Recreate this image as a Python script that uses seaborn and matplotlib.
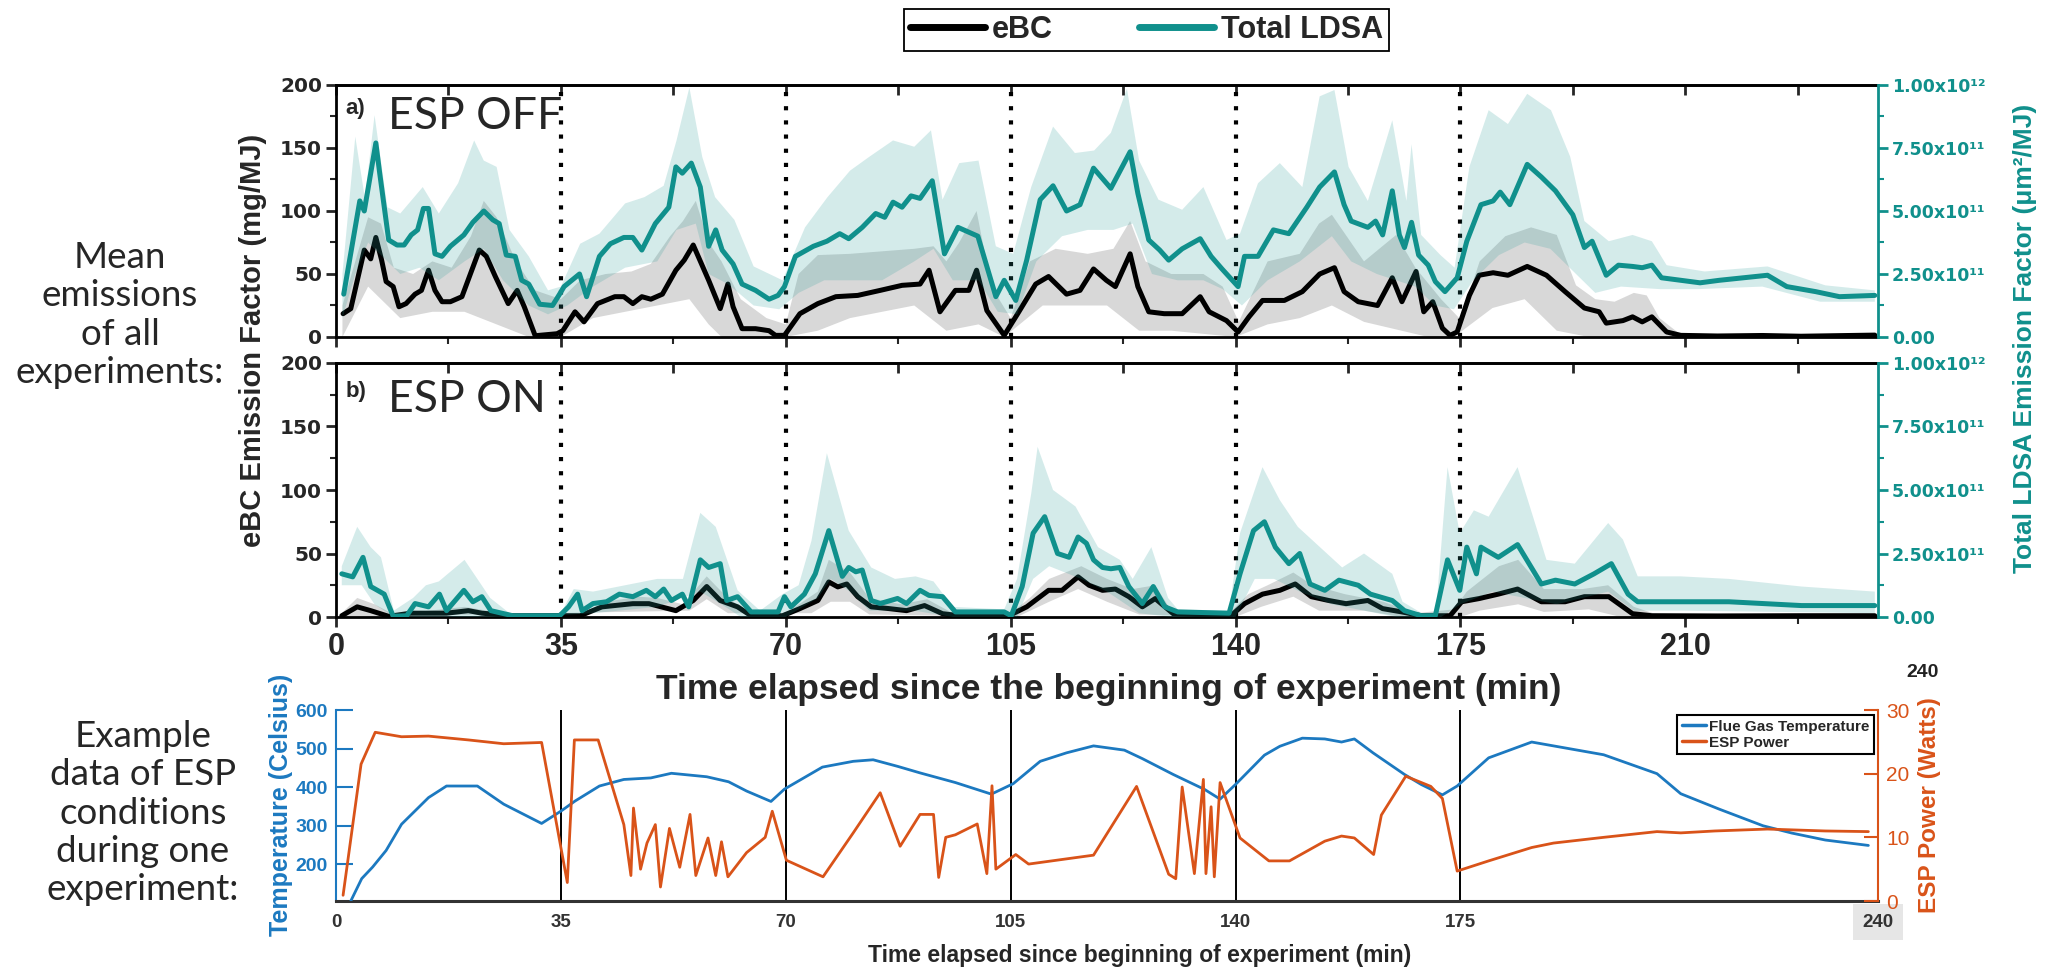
import numpy as np
import matplotlib
matplotlib.use("Agg")
import matplotlib.pyplot as plt
from matplotlib.lines import Line2D
from matplotlib.ticker import MultipleLocator
import seaborn as sns

# ------------------------------------------------------------------ data
PHASE_BOUNDS = [35, 70, 105, 140, 175]
X_TICKS = [0, 35, 70, 105, 140, 175, 210]
X_TICKS_ESP = [0, 35, 70, 105, 140, 175, 240]
X_TICK_LABELS_ESP = ["0", "35", "70", "105", "140", "175", "240"]
EBC_TICKS = [0, 50, 100, 150, 200]
LDSA_TICKS = [0.0, 2.5e11, 5.0e11, 7.5e11, 1.0e12]
LDSA_TICK_LABELS = ["0.00", "2.50x10\u00b9\u00b9", "5.00x10\u00b9\u00b9", "7.50x10\u00b9\u00b9", "1.00x10\u00b9\u00b2"]
TEMP_TICKS = [200, 300, 400, 500, 600]
POWER_TICKS = [0, 10, 20, 30]
SERIES_NAMES = ["eBC", "Total LDSA"]
ESP_NAMES = ["Flue Gas Temperature", "ESP Power"]

# panel a (ESP OFF): eBC mean, mg/MJ  (time min, value)
A_EBC = [(1.1,18.5),(2.3,22.5),(4.4,69),(5.4,62),(6.2,79),(7.1,61),(7.8,44),(8.9,40),(9.8,24),(10.9,26.5),
         (12.3,34),(13.3,37),(14.4,53),(15.4,37),(16.5,28),(17.8,28),(19.6,32),(22.3,69),(23.4,64),(24.8,48),
         (26.8,26.5),(28.2,37),(29.3,24),(31.0,1),(34.4,2.6),(35.3,5),(37.2,20),(38.6,12),(40.7,26.5),(43.4,32),
         (44.8,32),(46.2,26.5),(47.6,32),(49.0,30),(50.8,34),(52.9,53),(54.2,61),(55.6,73),(58.0,45),(59.8,22.5),
         (61.0,42),(61.8,24),(63.2,6.6),(65.3,6.6),(67.4,5),(68.4,1.3),(69.8,1.3),(72.2,18.5),(75.0,26.5),(77.8,32),
         (81.2,33),(84.7,37),(88.1,41),(90.9,42),(92.3,53),(94.0,20),(96.4,37),(98.5,37),(99.7,53),(101.3,21),
         (104.0,1.3),(106.1,18.5),(108.9,42),(110.9,48),(113.7,34),(115.8,37),(117.9,54),(119.9,45),(121.3,40),(123.6,66),
         (124.8,40),(126.5,20),(128.9,18.5),(131.7,18.5),(134.5,32),(135.9,20),(138.6,13),(140.4,4),(142.1,16),(144.2,29),
         (147.6,29),(150.4,36),(153.1,50),(155.4,55),(156.9,36),(159.1,28),(162.1,25),(164.4,47),(165.9,28),(168.1,52),
         (169.3,20),(170.7,28),(172.2,7),(173.4,1.3),(174.5,4),(176.4,33),(177.9,49),(180.1,51),(182.4,49),(185.4,56),
         (188.4,49),(191.3,36),(194.3,23),(196.6,20),(197.7,11),(200.3,13),(201.8,16),(203.3,12),(204.8,16),(207.1,4),
         (209.3,1.3),(215.0,0.8),(222.0,1.2),(228.0,0.6),(233.0,1.0),(239.5,1.5)]
A_EBC_HI = [(1,25),(3,60),(5,95),(7,90),(9,55),(12,50),(15,60),(18,55),(21,80),(23,108),(25,95),(28,60),(31,37),
            (35,30),(38,45),(42,50),(46,52),(49,58),(52,80),(54,92),(56,108),(58,75),(60,60),(63,30),(67,15),(70,10),
            (72,50),(75,65),(80,66),(85,68),(90,70),(93,72),(95,60),(97,75),(99.7,100),(102,40),(105,15),(108,60),
            (112,70),(117,66),(121,70),(123.6,92),(126,60),(130,50),(135,50),(138,40),(140.5,12),(145,60),(150,66),
            (153,90),(155,97),(160,60),(165,81),(168,55),(172,30),(175,14),(178,60),(182,80),(186,87),(190,81),
            (193,41),(196,30),(199,28),(202,35),(204,33),(206,15),(209,3),(215,2),(239.5,2)]
A_EBC_LO = [(1,0),(5,40),(10,15),(15,20),(20,20),(25,10),(30,0),(35,0),(40,15),(45,20),(50,25),(55,30),(58,10),
            (60,0),(70,0),(75,5),(80,15),(90,25),(95,5),(100,10),(104,0),(110,25),(120,25),(125,5),(130,5),(140,0),
            (145,10),(150,15),(155,25),(160,12),(170,0),(174,0),(180,23),(185,30),(190,5),(195,0),(200,0),(239.5,0)]
# panel a: Total LDSA mean, in 1e11 um^2/MJ
A_LDSA = [(1.2,1.7),(3.7,5.4),(4.4,5.0),(6.2,7.7),(6.8,6.5),(8.2,3.85),(9.5,3.65),(10.6,3.65),(11.7,4.05),(12.7,4.25),
          (13.6,5.1),(14.4,5.1),(15.4,3.3),(16.5,3.2),(17.8,3.6),(19.9,4.05),(21.3,4.55),(23.0,5.0),(24.4,4.65),(25.4,4.5),
          (26.5,3.25),(27.9,3.2),(28.9,2.25),(30.0,2.1),(31.7,1.3),(33.7,1.25),(34.8,1.7),(35.5,2.0),(37.9,2.5),(39.0,1.6),
          (41.0,3.2),(42.7,3.7),(44.8,3.95),(46.2,3.95),(47.6,3.45),(49.7,4.5),(51.8,5.15),(52.9,6.75),(53.9,6.5),(55.3,6.9),
          (56.7,5.95),(58.0,3.6),(59.1,4.25),(60.1,3.45),(61.8,2.9),(63.2,2.1),(65.3,1.85),(67.4,1.5),(68.8,1.65),(69.8,2.0),
          (71.5,3.2),(74.3,3.6),(76.4,3.8),(78.4,4.1),(79.8,3.9),(81.9,4.35),(84.0,4.9),(85.4,4.75),(86.7,5.35),(88.1,5.15),
          (89.5,5.6),(90.9,5.5),(92.8,6.2),(94.7,3.3),(96.8,4.35),(99.9,4.0),(102.7,1.6),(104.0,2.25),(105.8,1.45),(107.5,3.05),
          (109.6,5.45),(111.6,6.0),(113.7,5.0),(115.8,5.25),(117.9,6.7),(120.6,5.9),(123.6,7.35),(124.8,5.7),(126.5,3.85),(128.2,3.45),
          (129.6,3.05),(131.7,3.5),(134.5,3.9),(136.2,3.2),(137.9,2.7),(140.4,2.0),(141.4,3.2),(143.5,3.2),(145.9,4.25),(148.3,4.1),
          (151.1,5.15),(153.1,5.95),(155.4,6.55),(156.9,5.25),(158.0,4.6),(160.6,4.35),(161.8,4.6),(162.9,4.05),(164.4,5.8),(165.5,4.05),
          (166.3,3.55),(167.4,4.55),(168.5,3.25),(170.0,2.85),(171.1,2.2),(172.6,1.8),(174.5,2.35),(176.0,3.8),(178.2,5.25),(180.1,5.4),
          (181.2,5.75),(182.7,5.25),(185.4,6.85),(187.6,6.35),(189.8,5.8),(192.5,4.85),(194.3,3.55),(195.5,3.8),(197.7,2.45),(199.6,2.85),
          (201.8,2.8),(203.3,2.75),(204.8,2.85),(206.3,2.35),(209.3,2.25),(212.3,2.15),(215.3,2.25),(219.1,2.35),(222.8,2.45),(225.8,2.0),
          (230.3,1.8),(234.0,1.6),(239.5,1.65)]
A_LDSA_HI = [(1,2.5),(3,7.95),(4.5,5.5),(6,8.8),(8,5.15),(10,4.9),(13.5,5.95),(16,4.9),(19,6.1),(21.5,7.8),(23,7.0),
             (25,6.75),(27,4.25),(30,3.2),(33,1.85),(35,2.0),(38,3.7),(41,4.1),(45,5.3),(48,5.55),(51,6.0),(53,7.8),
             (55,9.9),(57,7.15),(59,5.55),(62,4.65),(65,2.8),(69.5,2.25),(73,4.35),(76.5,5.55),(80,6.6),(83,7.15),
             (86.7,7.8),(90,7.55),(92.6,8.2),(94.4,5.45),(97,6.9),(100,7.0),(102.7,3.6),(105.4,3.3),(108.2,5.95),
             (111.6,8.35),(115,7.3),(118,7.4),(120.6,8.1),(123.1,9.85),(125,7.0),(128,5.45),(131.7,5.05),(135,5.95),
             (138.6,3.85),(140.7,4.1),(143.5,6.1),(146.9,6.9),(150.4,5.95),(153.1,9.55),(155.4,9.8),(157.6,6.75),
             (160.6,5.4),(164.4,8.6),(166.6,5.4),(167.4,7.65),(168.9,4.05),(171.9,3.25),(174.1,2.75),(176.4,6.75),
             (179.4,9.0),(182.4,8.45),(185.4,9.65),(189.1,9.0),(192.1,7.15),(194.3,4.6),(198.1,3.8),(201.8,4.05),
             (204.8,3.8),(207.1,2.85),(213,2.6),(222.8,2.8),(231.8,2.05),(239.5,1.85)]
A_LDSA_LO = [(1,0.75),(3,2.5),(5,3.75),(7,3.25),(10,2.5),(13,2.75),(16,2.25),(20,3.0),(23,3.5),(26,2.25),(30,1.25),
             (33,0.9),(36,1.25),(40,2.0),(45,2.75),(50,3.0),(53,4.25),(56,4.5),(58,2.5),(61,2.1),(65,1.25),(69,1.1),
             (72,1.75),(76,2.25),(80,2.25),(85,2.25),(90,3.0),(93,3.5),(96,2.25),(100,2.25),(103,1.0),(106,0.9),
             (109,3.0),(113,4.0),(117,4.25),(121,4.25),(124,4.5),(127,2.5),(131,2.25),(135,2.25),(138,1.9),(141,1.25),
             (145,2.25),(150,3.0),(155,4.0),(158,3.0),(162,2.5),(165,2.25),(168,2.0),(171,1.25),(174,1.1),(177,2.25),
             (181,3.25),(185,3.75),(189,3.5),(193,2.5),(196,1.75),(200,2.0),(206,1.9),(212,1.9),(222,2.0),(231,1.4),
             (239.5,1.4)]

# panel b (ESP ON)
B_EBC = [(0.9,1),(3.3,8),(5.4,5),(8.2,0.5),(11.6,3),(17.2,3),(20.6,5),(22.7,3),(27.5,1),(38.0,1),(41.4,8),(46.2,10.5),
         (48.7,10.5),(52.9,5),(55.6,13),(57.7,24),(59.8,13),(62.5,8),(64.6,1),(69.5,1),(72.2,6.6),(75.0,13),(76.7,27.6),
         (78.1,23.7),(79.5,26),(81.2,16),(83.3,8),(86.1,6.6),(88.8,5),(91.6,9),(94.4,2.6),(97.1,1),(104.7,1),(107.5,8),
         (110.9,21),(113.0,21),(115.5,31.6),(117.2,25),(119.3,21),(121.3,22),(123.4,16),(125.5,8),(127.5,14.5),(130.3,2.6),
         (139.3,1),(141.4,10.5),(144.2,18),(146.9,21),(149.3,26),(151.8,16),(154.5,13),(157.2,10.5),(160.6,13),(162.9,6.6),
         (165.9,4),(168.9,1),(173.4,1),(175.2,12),(177.9,14.5),(180.9,18),(183.9,22),(187.6,12),(191.3,12),(194.3,16),
         (198.1,16),(201.8,2.6),(204.8,1),(215,0.8),(228,1),(239.5,1)]
B_EBC_HI = [(0.9,3),(3.3,15),(6,10),(9,2),(20,8),(27,2),(38,2),(42,12),(47,16),(50,15),(54,10),(57.7,32),(60,20),(64,3),
            (70,3),(75,20),(76.7,45),(80,35),(83,15),(88,10),(92,14),(96,3),(105,3),(108,15),(111,30),(116,40),(120,30),
            (124,22),(127.5,25),(130,5),(139,3),(142,18),(145,25),(149,35),(152,25),(157,18),(163,12),(168,3),(174,6),
            (176,20),(181,40),(184,45),(188,22),(194,22),(198,25),(202,8),(205,3),(239.5,3)]
B_EBC_LO = [(0.9,0),(55,5),(57.7,14),(61,3),(74,3),(77,12),(80,12),(83,2),(106,0),(111,12),(115.5,22),(120,12),(125,2),
            (140,0),(144,8),(149,16),(153,5),(160,5),(166,0),(175,0),(178,5),(184,10),(188,4),(195,6),(200,0),(239.5,0)]
B_LDSA = [(0.9,1.7),(2.6,1.58),(4.2,2.35),(5.4,1.2),(7.5,0.9),(8.9,0.03),(11,0.05),(12.3,0.53),(14.4,0.4),(16.1,0.9),
          (17.2,0.25),(19.9,1.05),(21.3,0.6),(22.7,0.8),(24.1,0.25),(27.5,0.05),(34.8,0.05),(36.2,0.4),(37.6,0.9),(38.3,0.25),
          (40.0,0.53),(42.1,0.6),(44.1,0.9),(46.2,0.8),(48.3,1.05),(49.7,0.8),(51.0,1.1),(52.2,0.65),(53.9,0.9),(54.9,0.4),
          (56.7,2.25),(58.0,1.95),(59.8,2.1),(60.8,0.65),(62.5,0.8),(64.6,0.2),(68.8,0.2),(69.8,0.8),(70.8,0.4),(72.9,0.9),
          (74.6,1.7),(76.7,3.4),(78.8,1.6),(79.8,1.95),(80.9,1.78),(81.9,1.85),(83.3,0.65),(84.7,0.53),(87.4,0.73),(88.8,0.53),
          (90.9,1.05),(92.3,0.85),(94.4,0.8),(96.4,0.2),(104.0,0.2),(105.1,0.05),(106.8,1.2),(108.5,3.3),(110.3,3.95),(112.3,2.5),
          (114.1,2.35),(115.5,3.15),(116.8,2.9),(117.9,2.25),(119.3,1.95),(120.6,1.9),(122.0,1.95),(123.4,1.2),(125.5,0.53),(127.2,1.2),
          (129.0,0.4),(131.0,0.2),(139.0,0.15),(140.7,1.7),(142.8,3.4),(144.5,3.75),(146.2,2.75),(148.3,2.1),(150.0,2.5),(151.6,1.3),
          (153.9,1.05),(156.1,1.45),(159.1,1.25),(161.0,0.9),(164.4,0.65),(166.3,0.25),(168.9,0.05),(171.1,0.05),(173.0,2.25),(174.9,1.05),
          (176.0,2.75),(177.5,1.7),(178.2,2.75),(180.9,2.35),(183.9,2.85),(187.6,1.3),(189.8,1.45),(192.8,1.3),(195.8,1.7),(198.5,2.1),
          (201.1,0.9),(202.6,0.6),(206.3,0.6),(216.8,0.6),(228.1,0.45),(239.5,0.45)]
B_LDSA_HI = [(0.9,2.0),(3.3,3.55),(5.4,2.75),(7,2.35),(9,0.25),(12,0.75),(14,1.25),(16,1.4),(20,2.25),(22,1.5),(24,0.75),
             (27,0.15),(35,0.15),(37,1.1),(40,1.0),(45,1.25),(50,1.5),(54,1.5),(56.7,4.1),(59.1,3.55),(62.5,1.05),(66,0.25),
             (69.5,0.9),(72,1.25),(74,3.0),(76.4,6.45),(79.8,3.4),(83.3,1.95),(87,1.5),(90.2,1.6),(93,1.4),(96,0.4),(104,0.3),
             (106,1.5),(108.2,4.85),(109.2,6.7),(111.6,5.0),(115.1,4.35),(118.6,2.75),(122,2.25),(124,1.5),(126.9,2.75),
             (129.5,0.75),(131,0.3),(139,0.25),(140.7,3.3),(144.2,5.9),(146.9,4.6),(149.7,3.55),(152.5,2.9),(156.6,1.95),
             (160,2.5),(164.4,1.7),(166,0.6),(169,0.15),(171.2,0.2),(173,5.9),(174.9,3.3),(177.1,4.2),(179.4,3.95),
             (183.9,5.9),(188.4,2.25),(192.8,2.1),(198,3.7),(200.3,3.05),(202.6,1.6),(209.3,1.6),(216.8,1.5),(228.1,1.2),
             (239.5,1.0)]
B_LDSA_LO = [(0.9,1.25),(4,1.25),(6,0.5),(9,0),(30,0),(40,0.15),(50,0.4),(56.7,1.0),(60,0.5),(63,0),(70,0),(75,0.75),
             (77,1.5),(80,1.0),(83,0.25),(90,0.25),(96,0),(106,0),(108.5,1.5),(111,2.0),(116,1.5),(120,1.0),(125,0.15),
             (130,0),(140,0),(143,1.5),(146,1.5),(150,1.0),(155,0.5),(165,0),(172,0),(175,0.5),(180,1.0),(185,0.75),
             (190,0.5),(198,1.0),(202,0.25),(210,0.25),(239.5,0.15)]

# example experiment: flue gas temperature (Celsius) and ESP power (Watts)
FLUE_TEMP = [(2.3,105),(4.0,163),(5.7,193),(7.8,236),(10.2,304),(14.4,373),(17.2,403),(22.0,403),(26.1,356),(32.0,306),
             (35.1,339),(37.2,364),(41.0,403),(44.8,420),(49.0,424),(52.2,436),(57.7,427),(61.1,414),(63.9,390),(67.7,363),
             (69.8,395),(75.7,452),(80.5,467),(83.6,471),(87.4,454),(90.9,437),(96.4,412),(102.0,382),(105.4,409),(109.6,467),
             (113.7,489),(117.9,507),(122.7,496),(125.5,474),(130.3,433),(135.2,394),(137.6,369),(140.0,407),(144.5,483),
             (146.9,506),(150.4,527),(153.9,525),(156.5,517),(158.5,525),(161.4,489),(166.3,433),(168.9,407),(172.2,380),
             (174.5,403),(179.4,476),(186.1,517),(197.3,484),(205.6,435),(209.3,383),(215.3,343),(222.1,300),(226.6,281),
             (231.8,263),(238.5,249)]
ESP_POWER = [(1.1,0.9),(3.9,21.5),(6.1,26.5),(10.2,25.8),(14.4,25.9),(20.6,25.3),(26.1,24.7),(32.0,24.9),(36.0,2.9),
             (37.1,25.3),(40.8,25.3),(44.8,12),(45.9,4),(46.3,14.6),(47.4,5),(48.4,9.1),(49.7,12),(50.5,2.2),(51.9,11.4),
             (53.5,5.3),(55.1,13.6),(56.0,4),(57.9,9.9),(59.1,4),(60.0,9.3),(61.0,3.8),(63.9,7.6),(66.8,10),(67.9,14.1),
             (70.1,6.4),(75.8,3.8),(80.5,10.7),(84.7,17),(87.8,8.6),(90.9,13.6),(93.0,13.6),(93.8,3.7),(94.9,10),(96.4,10.4),
             (99.8,12.1),(101.3,4.3),(102.1,18.1),(102.7,5),(105.8,7.3),(107.8,5.8),(117.9,7.2),(124.6,18),(129.6,4.2),
             (130.7,3.5),(131.7,17.9),(133.6,4.3),(135.0,19.1),(135.4,4.3),(136.2,14.8),(136.7,3.8),(137.6,18.6),(140.7,9.9),
             (145.2,6.3),(148.4,6.3),(153.9,9.4),(156.5,10.2),(158.5,9.9),(161.5,7.3),(162.7,13.5),(166.5,19.6),(170.4,18),
             (172.2,16.1),(174.5,4.7),(179.4,6.3),(186.1,8.4),(189.5,9.1),(197.3,10),(205.6,10.9),(209.3,10.7),(214.6,11),
             (222.8,11.3),(231.8,11),(238.5,10.9)]

# ------------------------------------------------------------------ style
TEAL = "#10908C"
TEAL_BAND = "#2A9D99"
GREY_BAND = "#999999"
BLUE = "#1C79C0"
ORANGE = "#D95319"

sns.set_theme(style="ticks")
plt.rcParams["font.family"] = ["Liberation Sans", "DejaVu Sans"]
plt.rcParams["axes.linewidth"] = 2


def xy(pairs):
    arr = np.asarray(pairs, dtype=float)
    return arr[:, 0], arr[:, 1]


def band(ax, lo, hi, color, alpha, scale=1.0):
    xl, yl = xy(lo)
    xh, yh = xy(hi)
    xs = np.concatenate([xh, xl[::-1]])
    ys = np.concatenate([yh, yl[::-1]]) * scale
    ax.fill(xs, ys, color=color, alpha=alpha, lw=0, zorder=1)


def emission_panel(ax, ebc, ebc_lo, ebc_hi, ldsa, ldsa_lo, ldsa_hi, tag, title, title_y, show_x):
    twin = ax.twinx()
    band(ax, ebc_lo, ebc_hi, GREY_BAND, 0.38)
    for b in PHASE_BOUNDS:
        ax.axvline(b, color="black", lw=3, ls=(0, (1, 2.4)), zorder=1.5)
    x, y = xy(ebc)
    sns.lineplot(x=x, y=y, ax=ax, color="black", linewidth=3.6, sort=False,
                 estimator=None, legend=False, zorder=3)
    band(twin, ldsa_lo, ldsa_hi, TEAL_BAND, 0.2, 1e11)
    x, y = xy(ldsa)
    sns.lineplot(x=x, y=y * 1e11, ax=twin, color=TEAL, linewidth=3.6, sort=False,
                 estimator=None, legend=False, zorder=3)

    ax.set_xlim(0, 240)
    ax.set_ylim(0, 200)
    twin.set_ylim(0, 1e12)
    ax.set_xlabel("")
    ax.set_ylabel("")
    twin.set_ylabel("")

    ax.set_yticks(EBC_TICKS)
    ax.yaxis.set_minor_locator(MultipleLocator(25))
    ax.tick_params(axis="y", which="major", direction="out", length=7, width=2, labelsize=14.5, pad=3)
    ax.tick_params(axis="y", which="minor", direction="out", length=4, width=1.5)
    for lbl in ax.get_yticklabels():
        lbl.set_fontfamily("DejaVu Sans")
        lbl.set_fontweight("bold")

    ax.set_xticks(X_TICKS)
    ax.xaxis.set_minor_locator(MultipleLocator(17.5))
    ax.tick_params(axis="x", which="major", direction="out", length=7, width=2, labelsize=22, pad=4)
    ax.tick_params(axis="x", which="minor", direction="out", length=5, width=1.5)
    if show_x:
        for lbl in ax.get_xticklabels():
            lbl.set_fontweight("bold")
    else:
        ax.tick_params(axis="x", labelbottom=False)

    sec = ax.secondary_xaxis("top")
    sec.xaxis.set_major_locator(MultipleLocator(17.5))
    sec.tick_params(axis="x", direction="in", length=7, width=2, labeltop=False)
    sec.spines["top"].set_linewidth(2)

    twin.set_yticks(LDSA_TICKS, labels=LDSA_TICK_LABELS)
    twin.yaxis.set_minor_locator(MultipleLocator(1.25e11))
    twin.tick_params(axis="y", which="major", direction="out", length=7, width=2,
                     colors=TEAL, labelsize=12.5, pad=3)
    twin.tick_params(axis="y", which="minor", direction="out", length=4, width=1.5, colors=TEAL)
    for lbl in twin.get_yticklabels():
        lbl.set_fontfamily("DejaVu Sans")
        lbl.set_fontweight("bold")

    ax.spines["right"].set_visible(False)
    for s in ("left", "top", "bottom"):
        twin.spines[s].set_visible(False)
        ax.spines[s].set_color("black")
        ax.spines[s].set_linewidth(2)
    twin.spines["right"].set_color(TEAL)
    twin.spines["right"].set_linewidth(2)

    ax.text(0.006, title_y, tag, transform=ax.transAxes, ha="left", va="top",
            fontsize=16, fontweight="bold", zorder=5)
    ax.text(0.034, title_y + 0.008, title, transform=ax.transAxes, ha="left", va="top",
            fontsize=32, family=["Lato", "DejaVu Sans"], zorder=5)
    return twin


# ------------------------------------------------------------------ figure
fig = plt.figure(figsize=(20.58, 9.71), dpi=100)
axA = fig.add_axes([0.16327, 0.65294, 0.74927, 0.25953])
axB = fig.add_axes([0.16327, 0.36457, 0.74927, 0.26159])
axC = fig.add_axes([0.16327, 0.07209, 0.74927, 0.19670])

emission_panel(axA, A_EBC, A_EBC_LO, A_EBC_HI, A_LDSA, A_LDSA_LO, A_LDSA_HI, "a)", "ESP OFF", 0.948, False)
emission_panel(axB, B_EBC, B_EBC_LO, B_EBC_HI, B_LDSA, B_LDSA_LO, B_LDSA_HI, "b)", "ESP ON", 0.93, True)

# shared labels of the two emission panels
fig.text(0.1229, 0.6498, "eBC Emission Factor (mg/MJ)", rotation=90, ha="center", va="center",
         fontsize=21, fontweight="bold")
fig.text(0.9840, 0.6519, "Total LDSA Emission Factor (\u03bcm\u00b2/MJ)", rotation=90, ha="center",
         va="center", fontsize=19, fontweight="bold", color=TEAL)
fig.text(0.5389, 0.2894, "Time elapsed since the beginning of experiment (min)", ha="center",
         va="center", fontsize=25.5, fontweight="bold")

leg_handles = [Line2D([], [], color="black", lw=5), Line2D([], [], color=TEAL, lw=5)]
top_leg = fig.legend(leg_handles, SERIES_NAMES, loc="center", bbox_to_anchor=(0.5571, 0.9691), ncol=2,
                     frameon=True, fancybox=False, edgecolor="black", framealpha=1,
                     prop=dict(weight="bold", size=22), handlelength=2.45, handletextpad=0.25,
                     columnspacing=2.8, borderpad=0.2)
top_leg.get_frame().set_linewidth(1.3)

# ---- bottom: example ESP conditions
x, y = xy(FLUE_TEMP)
sns.lineplot(x=x, y=y, ax=axC, color=BLUE, linewidth=2, sort=False, estimator=None, legend=False, zorder=3)
for b in PHASE_BOUNDS:
    axC.axvline(b, color="black", lw=1.4, zorder=1)
axC2 = axC.twinx()
x, y = xy(ESP_POWER)
sns.lineplot(x=x, y=y, ax=axC2, color=ORANGE, linewidth=2, sort=False, estimator=None, legend=False, zorder=3)

axC.set_xlim(0, 240)
axC.set_ylim(105, 600)
axC2.set_ylim(0, 30)
axC.set_xlabel("")
axC.set_ylabel("")
axC2.set_ylabel("")

axC.set_xticks(X_TICKS_ESP, labels=X_TICK_LABELS_ESP)
axC.tick_params(axis="x", length=0, pad=9, labelsize=13.5, labelcolor="#333333")
for lbl in axC.get_xticklabels():
    lbl.set_fontweight("bold")
axC.get_xticklabels()[-1].set_bbox(dict(facecolor="#E6E6E6", edgecolor="none", pad=7))

axC.set_yticks(TEMP_TICKS)
axC.tick_params(axis="y", direction="in", length=12, width=1.5, colors=BLUE, labelsize=14, pad=6)
for lbl in axC.get_yticklabels():
    lbl.set_fontweight("bold")
axC2.set_yticks(POWER_TICKS)
axC2.tick_params(axis="y", direction="in", length=10, width=1.5, colors=ORANGE, labelsize=15, pad=6)

for s in ("top", "right"):
    axC.spines[s].set_visible(False)
for s in ("top", "left", "bottom"):
    axC2.spines[s].set_visible(False)
axC.spines["left"].set_color(BLUE)
axC.spines["left"].set_linewidth(1.5)
axC.spines["bottom"].set_color("#333333")
axC.spines["bottom"].set_linewidth(2.2)
axC2.spines["right"].set_color(ORANGE)
axC2.spines["right"].set_linewidth(1.5)

esp_handles = [Line2D([], [], color=BLUE, lw=2.5), Line2D([], [], color=ORANGE, lw=2.5)]
esp_leg = axC2.legend(esp_handles, ESP_NAMES, loc="upper right", bbox_to_anchor=(0.9974, 0.974),
                      frameon=True, fancybox=False, edgecolor="black", framealpha=1,
                      prop=dict(weight="bold", size=11), handlelength=1.6, handletextpad=0.2,
                      labelspacing=0.15, borderpad=0.3, borderaxespad=0)
esp_leg.get_frame().set_linewidth(1.5)

fig.text(0.1365, 0.1710, "Temperature (Celsius)", rotation=90, ha="center", va="center",
         fontsize=18, fontweight="bold", color=BLUE)
fig.text(0.9378, 0.1710, "ESP Power (Watts)", rotation=90, ha="center", va="center",
         fontsize=17.5, fontweight="bold", color=ORANGE)
fig.text(0.5539, 0.0155, "Time elapsed since beginning of experiment (min)", ha="center", va="center",
         fontsize=16.5, fontweight="bold", color="#262626")
fig.text(0.9344, 0.3079, "240", ha="center", va="center", fontsize=14, fontweight="bold", color="#222222")

# ---- left-hand annotations
fig.text(0.0583, 0.6756, "Mean\nemissions\nof all\nexperiments:", ha="center", va="center",
         multialignment="center", fontsize=26.5, family=["Lato", "DejaVu Sans"], linespacing=1.2)
fig.text(0.0695, 0.1627, "Example\ndata of ESP\nconditions\nduring one\nexperiment:", ha="center",
         va="center", multialignment="center", fontsize=26.5, family=["Lato", "DejaVu Sans"], linespacing=1.2)

fig.savefig("out.png", dpi=100)
